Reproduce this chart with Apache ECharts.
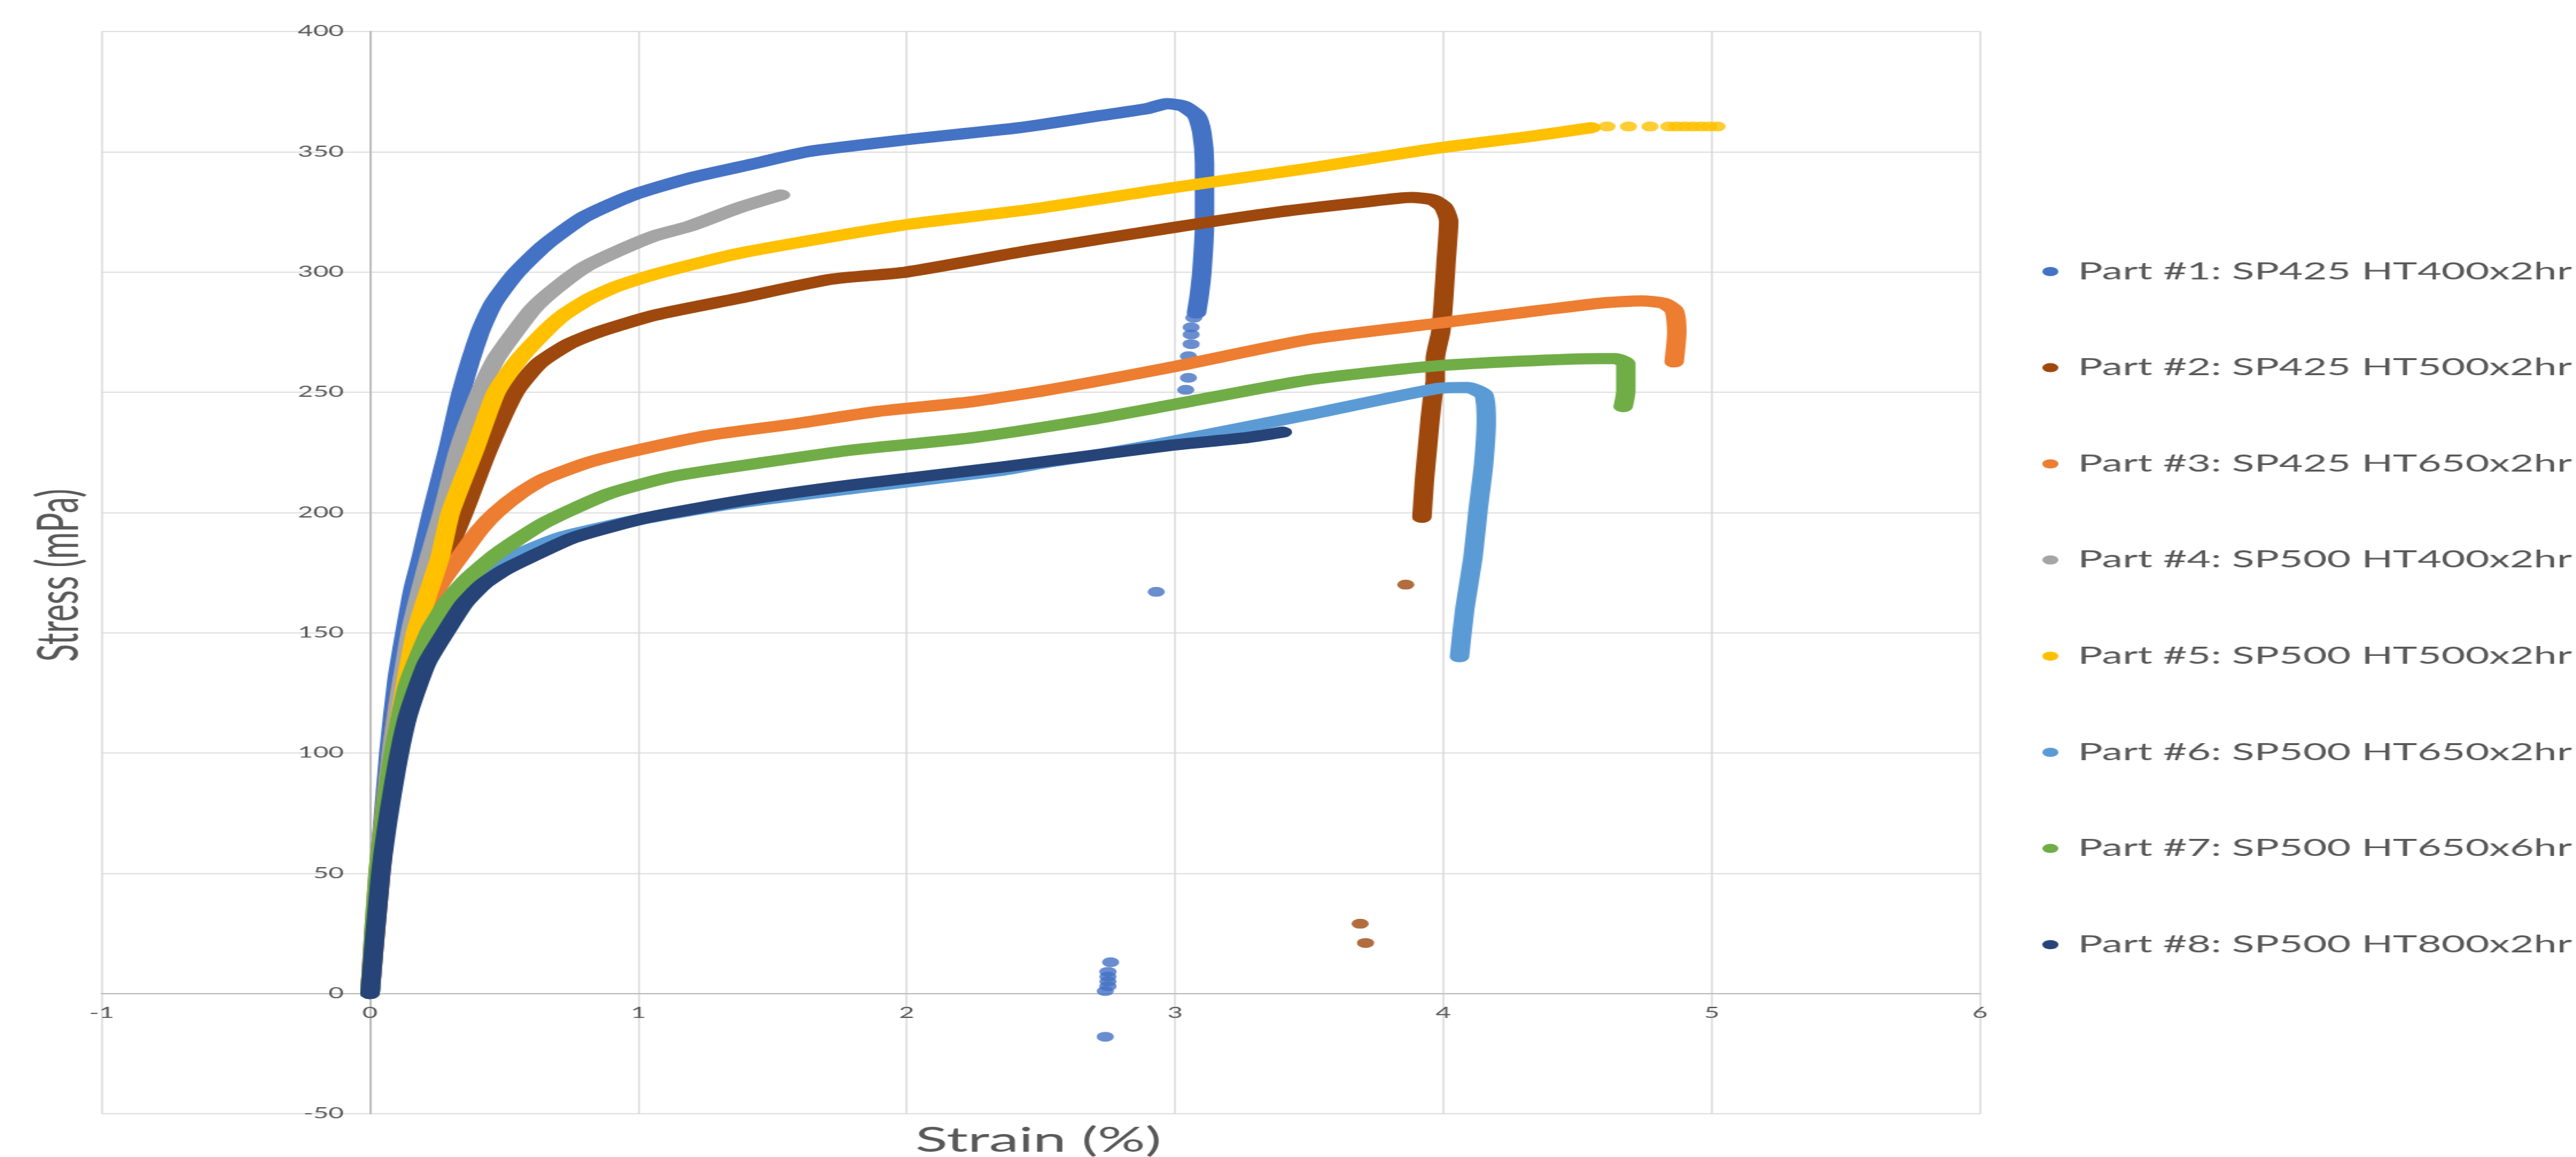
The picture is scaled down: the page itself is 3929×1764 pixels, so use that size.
<!DOCTYPE html>
<html>
<head>
<meta charset="utf-8">
<title>Stress vs Strain</title>
<script src="https://cdn.jsdelivr.net/npm/echarts@6/dist/echarts.min.js"></script>
<style>
  html, body { margin: 0; padding: 0; background: #fff; overflow: hidden; }
  /* the reference picture is stretched sideways, so the chart is drawn narrow and widened */
  #main {
    position: absolute; left: 0; top: 0;
    width: 2245px; height: 1764px;
    transform: scaleX(1.75); transform-origin: 0 0;
  }
</style>
</head>
<body>
<div id="main"></div>
<script>
// legend names and colours
var partNames = [
  "Part #1: SP425 HT400x2hr",
  "Part #2: SP425 HT500x2hr",
  "Part #3: SP425 HT650x2hr",
  "Part #4: SP500 HT400x2hr",
  "Part #5: SP500 HT500x2hr",
  "Part #6: SP500 HT650x2hr",
  "Part #7: SP500 HT650x6hr",
  "Part #8: SP500 HT800x2hr"
];
var partColors = ["#4472C4", "#9E480E", "#ED7D31", "#A5A5A5", "#FFC000", "#5B9BD5", "#70AD47", "#264478"];

// axis ticks
var strainTicks = [-1, 0, 1, 2, 3, 4, 5, 6];
var stressTicks = [-50, 0, 50, 100, 150, 200, 250, 300, 350, 400];

// [strain %, stress], main curve of each part
var part1 = [[0,0],[0.02,30],[0.04,60],[0.07,100],[0.10,130],[0.13,150],[0.16,168],[0.19,181],[0.23,200],[0.29,226],[0.34,250],[0.41,275],[0.46,287],[0.54,299],[0.65,311],[0.80,323],[0.98,332],[1.19,339],[1.43,345],[1.63,350],[2.0,355],[2.42,360],[2.72,365],[2.90,368],[2.97,370],[3.03,369],[3.08,365],[3.10,358],[3.11,345],[3.11,320],[3.10,300],[3.09,290],[3.08,283]];
var part2 = [[0,0],[0.04,50],[0.09,100],[0.17,150],[0.28,181],[0.35,200],[0.44,226],[0.54,250],[0.63,262],[0.74,270],[0.85,275],[1.06,282],[1.37,289],[1.72,297],[2.0,300],[2.46,309],[3.0,318.6],[3.39,325],[3.7,329],[3.88,331],[3.96,330],[4.0,327],[4.02,321],[4.01,304],[4.0,287],[3.99,275],[3.97,264],[3.97,255],[3.96,248],[3.95,238],[3.94,226],[3.93,214],[3.92,198]];
var part3 = [[0,0],[0.03,50],[0.08,100],[0.12,130],[0.17,150],[0.26,170],[0.35,184],[0.41,193],[0.47,200],[0.56,208],[0.65,214],[0.82,221],[1.0,226],[1.26,232],[1.59,237],[1.89,242],[2.24,246],[2.53,251],[2.99,260.5],[3.5,272],[3.98,278.7],[4.58,287],[4.74,288],[4.82,287],[4.86,284],[4.87,275],[4.86,262.6]];
var part4 = [[0,0],[0.03,45],[0.08,100],[0.15,150],[0.22,181],[0.27,200],[0.33,226],[0.41,250],[0.47,264],[0.54,275],[0.61,285],[0.69,293],[0.80,302],[0.93,309],[1.06,315],[1.19,319],[1.37,326.5],[1.53,332]];
var part5 = [[0,0],[0.035,50],[0.09,100],[0.17,150],[0.26,181],[0.30,200],[0.39,226],[0.47,250],[0.55,263],[0.65,275],[0.72,282],[0.82,289],[0.92,294],[1.06,299],[1.37,307.6],[1.74,315],[2.02,320],[2.46,326],[2.99,335],[3.49,343],[3.98,351.5],[4.30,356],[4.55,360]];
var part6 = [[0,0],[0.035,50],[0.08,90],[0.13,120],[0.22,150],[0.29,162],[0.36,171],[0.45,177],[0.54,182],[0.71,189.6],[1.0,197],[1.37,204],[1.80,210],[2.35,217.5],[2.53,221],[2.74,224.5],[2.99,229.5],[3.49,240.5],[3.98,251.6],[4.09,252],[4.15,249],[4.16,238],[4.15,220],[4.13,201.6],[4.11,181],[4.08,160],[4.06,140]];
var part7 = [[0,0],[0.03,50],[0.08,95],[0.14,128],[0.22,150],[0.29,163],[0.36,172],[0.475,183],[0.65,195.7],[0.89,207.8],[1.13,215],[1.48,221],[1.80,226],[2.24,231],[2.68,238.5],[3.0,245],[3.49,255],[3.98,261],[4.58,264],[4.64,264],[4.68,262],[4.68,250.5],[4.67,244]];
var part8 = [[0,0],[0.04,50],[0.09,88],[0.14,115],[0.21,137],[0.28,150],[0.35,162],[0.42,170],[0.50,176],[0.59,181],[0.76,189.6],[1.04,198],[1.41,205.4],[1.80,211.5],[2.35,218.8],[2.99,228],[3.26,231],[3.40,233.4]];

// loose points that sit apart from the curves
var part1Dots = [[3.07,281],[3.06,277],[3.06,274],[3.06,270],[3.05,265],[3.05,256],[3.04,251],[2.93,167],[2.76,13],[2.75,9],[2.75,7],[2.75,5],[2.75,3],[2.74,1],[2.74,-18]];
var part2Dots = [[3.86,170],[3.69,29],[3.71,21]];
var part5Dots = [[4.61,360.5],[4.69,360.5],[4.77,360.5],[4.84,360.5],[4.87,360.5],[4.90,360.5],[4.93,360.5],[4.96,360.5],[4.99,360.5],[5.02,360.5]];

var curves = [part1, part2, part3, part4, part5, part6, part7, part8];
var dots = [part1Dots, part2Dots, [], [], part5Dots, [], [], []];

var font = "Lato";
var textGray = "#595959";

function buildSeries() {
  var list = [];
  for (var i = 0; i < curves.length; i++) {
    list.push({
      name: partNames[i],
      type: "line",
      data: curves[i],
      showSymbol: false,
      symbol: "circle",
      smooth: 0.2,
      itemStyle: { color: partColors[i] },
      lineStyle: { color: partColors[i], width: 17, cap: "round", join: "round" },
      emphasis: { disabled: true }
    });
    if (dots[i].length) {
      list.push({
        name: partNames[i],
        type: "scatter",
        data: dots[i],
        symbol: "circle",
        symbolSize: 15,
        itemStyle: { color: partColors[i] },
        emphasis: { disabled: true }
      });
    }
  }
  return list;
}

var chart = echarts.init(document.getElementById("main"));
chart.setOption({
  animation: false,
  backgroundColor: "#fff",
  color: partColors,
  grid: { left: 88.6, right: 519.3, top: 48, bottom: 66 },
  xAxis: {
    type: "value",
    position: "bottom",
    offset: -183,   // sits on stress = 0
    min: strainTicks[0],
    max: strainTicks[strainTicks.length - 1],
    interval: 1,
    axisLine: { onZero: false, lineStyle: { color: "#BFBFBF", width: 2 } },
    axisTick: { show: false },
    axisLabel: { color: textGray, fontFamily: font, fontSize: 23, margin: 18 },
    splitLine: { show: true, lineStyle: { color: "#D9D9D9", width: 1.5 } }
  },
  yAxis: {
    type: "value",
    position: "left",
    offset: -234,   // sits on strain = 0
    min: stressTicks[0],
    max: stressTicks[stressTicks.length - 1],
    interval: 50,
    axisLine: { show: true, onZero: false, lineStyle: { color: "#BFBFBF", width: 2 } },
    axisTick: { show: false },
    axisLabel: { color: textGray, fontFamily: font, fontSize: 23, margin: 23 },
    splitLine: { show: true, lineStyle: { color: "#D9D9D9", width: 1.5 } }
  },
  legend: {
    orient: "vertical",
    left: 1775,
    top: 389,
    icon: "circle",
    itemWidth: 38,
    itemHeight: 14,
    itemGap: 106.6,
    data: partNames,
    textStyle: { color: textGray, fontFamily: font, fontSize: 36, lineHeight: 40 }
  },
  graphic: [
    {
      type: "text",
      x: 905,
      y: 1739,
      style: { text: "Strain (%)", fill: textGray, font: "52px Lato", align: "center", verticalAlign: "middle" }
    },
    {
      type: "text",
      x: 52,
      y: 877,
      rotation: Math.PI / 2,
      style: { text: "Stress (mPa)", fill: textGray, font: "50px Lato", align: "center", verticalAlign: "middle" }
    }
  ],
  series: buildSeries()
});
</script>
</body>
</html>
